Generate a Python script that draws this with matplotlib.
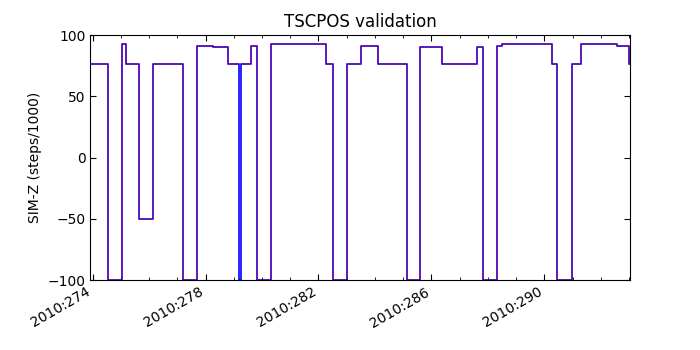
import matplotlib
matplotlib.use('Agg')
import matplotlib.pyplot as plt
from matplotlib.ticker import MultipleLocator, FuncFormatter

# step changes, day-of-year 2010
step_times = [273.92, 274.56, 275.04, 275.18, 275.65, 276.15, 277.21, 277.69,
              278.25, 278.79, 279.19, 279.24, 279.61, 279.84, 280.32, 282.26,
              282.50, 283.01, 283.51, 284.12, 285.13, 285.61, 286.37, 287.61,
              287.81, 288.31, 288.51, 290.28, 290.46, 290.99, 291.30, 292.56,
              293.00, 293.03]
step_vals = [76, -100, 93, 76, -50, 76, -100, 91,
             90, 76, -100, 76, 91, -100, 93, 76,
             -100, 76, 91, 76, -100, 90, 76, 90,
             -100, 91, 93, 76, -100, 76, 93, 91,
             76, 76]

# model prediction: same steps, without the short dip at 279.19
pred_times = step_times[:10] + step_times[12:]
pred_vals = step_vals[:10] + step_vals[12:]

fig = plt.figure(figsize=(7, 3.5), dpi=100)
ax = fig.add_axes([0.129, 0.2, 0.771, 0.7])

ax.plot(step_times, step_vals, color='b', lw=1.2, drawstyle='steps-post')
ax.plot(pred_times, pred_vals, color='r', lw=1.2, alpha=0.3,
        drawstyle='steps-post')

ax.set_xlim(273.92, 293.03)
ax.set_ylim(-100, 100)
ax.xaxis.set_major_locator(MultipleLocator(4, offset=2))
ax.xaxis.set_minor_locator(MultipleLocator(1))
ax.yaxis.set_major_locator(MultipleLocator(50))
ax.xaxis.set_major_formatter(FuncFormatter(lambda v, p: f'2010:{int(round(v)):03d}'))
ax.tick_params(which='both', direction='in', top=True, right=True, labelsize=10)
ax.tick_params(which='major', length=4)
ax.tick_params(which='minor', length=2)
for lbl in ax.get_xticklabels():
    lbl.set_rotation(30)
    lbl.set_ha('right')

ax.set_title('TSCPOS validation', fontsize=12)
ax.set_ylabel('SIM-Z (steps/1000)', fontsize=10)

fig.savefig('out.png', dpi=100)
